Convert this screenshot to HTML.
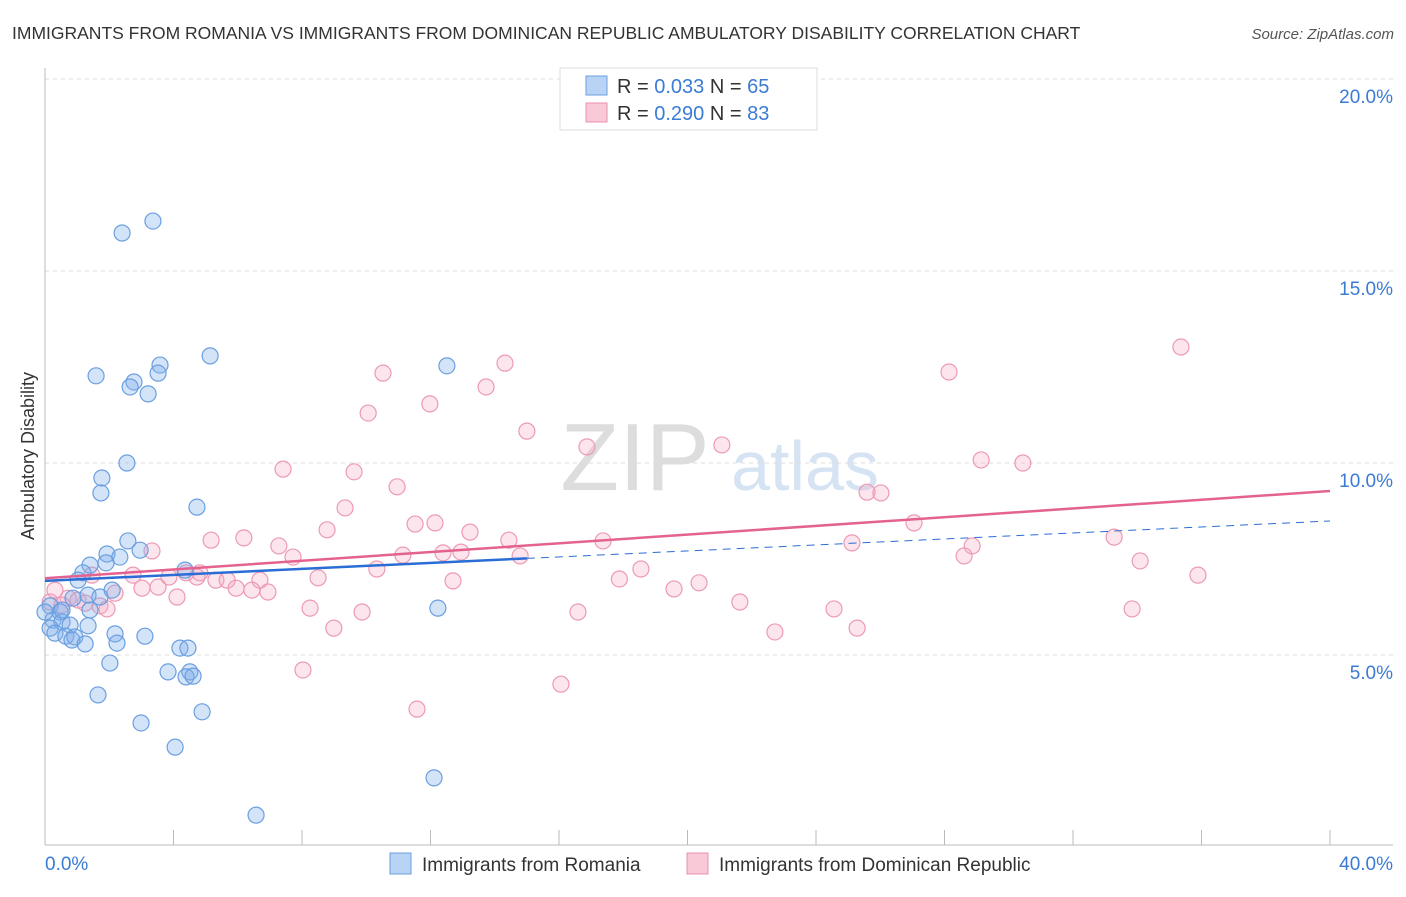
<!DOCTYPE html>
<html><head><meta charset="utf-8"><style>
body{margin:0;background:#fff;font-family:"Liberation Sans",sans-serif;}
svg text{font-family:"Liberation Sans",sans-serif;}
</style></head><body>
<svg id="chart" width="1406" height="892" xmlns="http://www.w3.org/2000/svg">
<text x="12" y="39" font-size="17.5" fill="#333">IMMIGRANTS FROM ROMANIA VS IMMIGRANTS FROM DOMINICAN REPUBLIC AMBULATORY DISABILITY CORRELATION CHART</text>
<text x="1394" y="39" font-size="15" fill="#555" font-style="italic" text-anchor="end">Source: ZipAtlas.com</text>
<text x="635" y="490" font-size="96" fill="#ddd" font-family="Liberation Serif" text-anchor="middle">ZIP</text>
<text x="805" y="490" font-size="70" fill="#d5e3f3" text-anchor="middle">atlas</text>
<g id="grid"></g>
<g id="axes"></g>
<g id="pts"></g>
<g id="lines"></g>
<text transform="translate(34,456) rotate(-90)" font-size="18" fill="#333" text-anchor="middle">Ambulatory Disability</text>
<g>
<rect x="560" y="68" width="257" height="62" fill="#fff" stroke="#ddd"/>
<rect x="586" y="76" width="21" height="19" fill="#b8d3f3" stroke="#6a9fe0"/>
<rect x="586" y="103" width="21" height="19" fill="#f9c9d8" stroke="#e890aa"/>
<text x="617" y="93" font-size="20" fill="#333">R = <tspan fill="#3a7bd5">0.033</tspan>   N = <tspan fill="#3a7bd5">65</tspan></text>
<text x="617" y="120" font-size="20" fill="#333">R = <tspan fill="#3a7bd5">0.290</tspan>   N = <tspan fill="#3a7bd5">83</tspan></text>
</g>
<g>
<rect x="390" y="853" width="21" height="21" fill="#b8d3f3" stroke="#6a9fe0"/>
<text x="422" y="871" font-size="19" fill="#333">Immigrants from Romania</text>
<rect x="687" y="853" width="21" height="21" fill="#f9c9d8" stroke="#e890aa"/>
<text x="719" y="871" font-size="19" fill="#333">Immigrants from Dominican Republic</text>
</g>
</svg>
<script>
const yTicks=[5,10,15,20];
const yTickLabels=["5.0%","10.0%","15.0%","20.0%"];
const xTickLabels=["0.0%","40.0%"];
const blueX=[3.36,2.40,5.14,3.58,12.51,1.59,3.52,2.77,2.65,3.21,2.55,1.77,1.74,4.73,2.58,2.96,1.93,2.33,1.40,1.90,4.36,1.18,1.03,2.09,1.34,1.71,0.87,0.16,0.47,12.23,1.40,0.25,0.53,0.78,0.16,1.34,0.31,0.65,0.93,2.18,3.11,0.84,1.25,2.24,4.20,4.45,2.02,3.83,4.51,4.39,4.61,1.65,4.89,2.99,4.05,12.11,6.57,0.53,0.0];
const blueY=[16.30,15.99,12.79,12.55,12.53,12.27,12.34,12.11,11.98,11.80,10.00,9.61,9.22,8.85,7.97,7.73,7.63,7.55,7.34,7.40,7.21,7.14,6.95,6.69,6.56,6.51,6.48,6.28,6.12,6.22,6.17,5.91,5.86,5.78,5.70,5.76,5.57,5.49,5.47,5.55,5.49,5.39,5.29,5.31,5.18,5.18,4.79,4.56,4.56,4.43,4.45,3.96,3.52,3.23,2.60,1.80,0.83,6.17,6.12];
const pinkX=[35.36,14.32,10.52,28.14,13.73,10.06,11.98,15.00,16.87,21.07,29.14,30.44,7.41,9.62,10.96,25.59,26.02,9.34,27.05,11.52,12.14,8.78,13.23,5.17,6.19,14.44,17.37,25.12,33.28,28.86,7.28,3.33,12.39,12.95,11.14,7.72,14.79,28.61,34.09,10.33,18.55,35.89,2.74,3.86,4.82,4.73,4.39,8.50,5.32,5.67,6.69,1.46,17.88,20.36,12.70,3.52,3.02,5.95,6.44,6.94,19.58,2.18,4.11,0.72,1.03,0.16,21.63,1.71,1.93,8.25,9.87,16.59,24.56,33.84,0.53,8.99,25.28,22.72,8.03,16.06,11.58,0.31,1.25];
const pinkY=[13.02,12.60,12.34,12.37,11.98,11.30,11.54,10.83,10.42,10.47,10.08,10.00,9.84,9.77,9.38,9.24,9.22,8.83,8.44,8.41,8.44,8.26,8.20,7.99,8.05,7.99,7.97,7.92,8.07,7.84,7.84,7.71,7.66,7.68,7.60,7.55,7.58,7.58,7.45,7.24,7.24,7.08,7.08,7.03,7.14,7.03,7.14,7.01,6.95,6.95,6.95,7.08,6.98,6.88,6.93,6.77,6.74,6.74,6.69,6.64,6.72,6.61,6.51,6.48,6.43,6.38,6.38,6.28,6.20,6.22,6.12,6.12,6.20,6.20,6.30,5.70,5.70,5.60,4.61,4.24,3.59,6.69,6.35];
const blueTrend=[6.93,8.49];
const pinkTrend=[7.0,9.27];
const blueSolidEnd=15;
const NS="http://www.w3.org/2000/svg";
const sx=v=>45+v*32.125, sy=v=>847-v*38.4;
function mk(tag,attrs,parent){const e=document.createElementNS(NS,tag);for(const k in attrs)e.setAttribute(k,attrs[k]);parent.appendChild(e);return e;}
const grid=document.getElementById('grid'),axes=document.getElementById('axes'),pts=document.getElementById('pts'),lines=document.getElementById('lines');
yTicks.forEach((t,i)=>{
 const l=mk('line',{x1:45,x2:1393,y1:sy(t),y2:sy(t),stroke:'#ddd','stroke-dasharray':'4,4'},grid);
 
 
 const tx=mk('text',{x:1393,y:sy(t)+24,'font-size':19,fill:'#3a7bd5','text-anchor':'end'},axes);
 tx.textContent=yTickLabels[i];
 
 
});
const yl=mk('line',{x1:45,x2:45,y1:68,y2:845,stroke:'#bbb'},axes);


const xl=mk('line',{x1:45,x2:1393,y1:845,y2:845,stroke:'#bbb'},axes);


for(let i=0;i<=10;i++){
 const t=mk('line',{x1:sx(i*4),x2:sx(i*4),y1:830,y2:845,stroke:'#bbb'},axes);
 
 
}
const xa=mk('text',{x:45,y:870,'font-size':19,fill:'#3a7bd5'},axes);
xa.textContent=xTickLabels[0];


const xb=mk('text',{x:1393,y:870,'font-size':19,fill:'#3a7bd5','text-anchor':'end'},axes);
xb.textContent=xTickLabels[1];


pinkX.forEach((x,i)=>{
 const c=mk('circle',{cx:sx(x),cy:sy(pinkY[i]),r:8,fill:'rgba(244,170,195,0.3)',stroke:'#ec9ab4','stroke-width':1.2},pts);
 
 
});
blueX.forEach((x,i)=>{
 const c=mk('circle',{cx:sx(x),cy:sy(blueY[i]),r:8,fill:'rgba(130,175,235,0.35)',stroke:'#6a9fe0','stroke-width':1.2},pts);
 
 
});
const bAt=v=>blueTrend[0]+(blueTrend[1]-blueTrend[0])*v/40;
const bd=mk('line',{x1:sx(blueSolidEnd),y1:sy(bAt(blueSolidEnd)),x2:sx(40),y2:sy(blueTrend[1]),stroke:'#2a6dd4','stroke-width':1,'stroke-dasharray':'8,6'},lines);


const bs=mk('line',{x1:sx(0),y1:sy(blueTrend[0]),x2:sx(blueSolidEnd),y2:sy(bAt(blueSolidEnd)),stroke:'#2a6dd4','stroke-width':2.5},lines);


const pl=mk('line',{x1:sx(0),y1:sy(pinkTrend[0]),x2:sx(40),y2:sy(pinkTrend[1]),stroke:'#e4628f','stroke-width':2.5},lines);


</script>
</body></html>
